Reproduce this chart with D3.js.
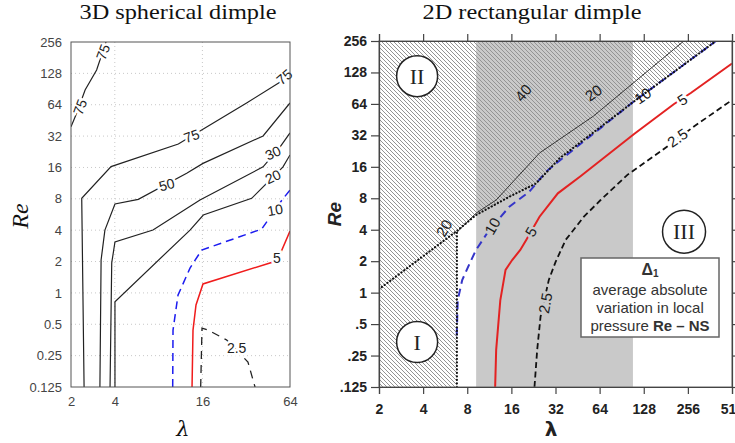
<!DOCTYPE html>
<html>
<head>
<meta charset="utf-8">
<script src="https://cdnjs.cloudflare.com/ajax/libs/d3/7.8.5/d3.min.js"></script>
<style>
  body { margin: 0; background: #fff; }
  svg { display: block; }
</style>
</head>
<body>
<svg id="chart" width="735" height="443"></svg>
<script>
// ---- data: axis ticks ----
var reTicks = [0.125, 0.25, 0.5, 1, 2, 4, 8, 16, 32, 64, 128, 256];
var reLabelsL = ["0.125", "0.25", "0.5", "1", "2", "4", "8", "16", "32", "64", "128", "256"];
var reLabelsR = [".125", ".25", ".5", "1", "2", "4", "8", "16", "32", "64", "128", "256"];
var lamTicksL = [2, 4, 16, 64];
var lamTicksR = [2, 4, 8, 16, 32, 64, 128, 256, 512];

// ---- data: 3D spherical dimple contours [lambda, Re] ----
var sph75a = [[2, 39.4], [2.19, 53.3], [2.5, 88.6], [3.0, 138], [3.48, 256]];
var sph75b = [[2.46, 0.125], [2.37, 8.09], [3.77, 16.3], [10.93, 26.9], [16.67, 38.3], [32.2, 66.5], [57.3, 110], [64, 132]];
var sph50 = [[3.16, 0.125], [3.22, 2.07], [3.42, 4.01], [4.01, 7.13], [5.8, 7.91], [12.48, 14.1], [16.15, 17.5], [41.8, 32.1], [64, 66.5]];
var sph30 = [[3.71, 0.125], [3.81, 1.94], [4.01, 3.08], [7.32, 4.01], [15.4, 7.79], [41.8, 16.2], [54.6, 25.1], [64, 34.3]];
var sph20 = [[4.01, 0.125], [4.01, 0.823], [13.15, 4.01], [16.23, 5.59], [34.9, 8.09], [48.9, 12.95], [57.3, 16.2], [64, 21.1]];
var sph10 = [[10.0, 0.125], [10.05, 0.44], [10.88, 0.954], [13.15, 1.73], [15.82, 2.58], [40.9, 4.1], [45.2, 5.01], [56.4, 7.79], [64, 9.72]];
var sph5 = [[13.58, 0.125], [13.79, 0.44], [14.46, 0.765], [16.15, 1.22], [48.9, 1.98], [55.5, 2.47], [64, 3.93]];
var sph2p5 = [[15.57, 0.125], [15.9, 0.46], [17.49, 0.44], [23.5, 0.353], [32.9, 0.217], [36.8, 0.125]];
var sphLabels = [
  ["75", 2.31, 60.8, -70], ["75", 3.32, 205, -70], ["75", 13.5, 32, -20], ["75", 58.5, 118, -40],
  ["50", 9.09, 10.9, -15], ["30", 48.9, 22, -25], ["20", 48.9, 13, -25], ["10", 50.5, 6.25, -10],
  ["5", 52, 2.16, 0], ["2.5", 27.5, 0.296, 0]
];

// ---- data: 2D rectangular dimple ----
var grayBand = [9.2, 108];
var iVertical = [[6.8, 0.125], [6.8, 3.9]];
var iiBoundary = [[2, 1.08], [6.8, 3.9], [9.18, 5.53], [15.5, 8.28], [23.6, 11.1], [34.1, 19.3], [110, 67.8], [398, 256]];
var rect20 = [[6.83, 3.8], [9.22, 5.78], [12.6, 7.7], [24.9, 21.7], [58.2, 49], [240, 256]];
var rect10 = [[6.78, 0.39], [6.89, 0.85], [7.39, 1.32], [8.39, 1.96], [9.18, 2.56], [11.3, 3.97], [15.5, 6.64], [21.2, 9.24], [27.6, 14.4], [32.4, 17.3], [110, 67.8], [398, 256]];
var rect5 = [[12.4, 0.125], [12.6, 0.283], [13.45, 0.85], [14.6, 1.65], [16.2, 2.05], [18.4, 2.56], [20.2, 3.19], [24.9, 5.33], [33.2, 8.92], [47.4, 13.0], [110, 33.0], [206, 63.9], [268, 81.4], [512, 156]];
var rect2p5 = [[23.0, 0.125], [24.0, 0.283], [25.3, 0.588], [28.8, 1.32], [32, 1.96], [37.5, 3.19], [50, 5.33], [65, 7.7], [99, 13.4], [167, 22.5], [283, 39.1], [512, 69.7]];
var rectLabels = [
  ["20", 5.57, 4.15, -60, null], ["10", 11.9, 4.34, -60, "#c9c9c9"], ["5", 21.8, 3.83, -60, "#c9c9c9"],
  ["2.5", 27.3, 0.795, -80, "#c9c9c9"], ["40", 19.3, 81.4, -50, null], ["20", 58.2, 81.4, -35, null],
  ["10", 126, 76.2, -35, null], ["5", 235, 70.2, -35, "#fff"], ["2.5", 218, 30.2, -35, "#fff"]
];
var regions = [["II", 3.64, 118], ["I", 3.64, 0.337], ["III", 241, 3.83]];

var svg = d3.select("#chart");
var defs = svg.append("defs");

// hatch pattern
var pat = defs.append("pattern")
  .attr("id", "hatch")
  .attr("patternUnits", "userSpaceOnUse")
  .attr("width", 4).attr("height", 4);
pat.append("path")
  .attr("d", "M0,0 L4,4 M-1,3 L1,5 M3,-1 L5,1")
  .attr("stroke", "#939393").attr("stroke-width", 1);

// ================= LEFT PANEL =================
var xL = d3.scaleLog().base(2).domain([2, 64]).range([71, 290]),
    yL = d3.scaleLog().base(2).domain([0.125, 256]).range([387, 42]);

defs.append("clipPath").attr("id", "clipL").append("rect")
  .attr("x", 71).attr("y", 42).attr("width", 219).attr("height", 345);

var left = svg.append("g");

// grid
left.selectAll(".gy").data(reTicks.slice(1, -1)).enter().append("line")
  .attr("x1", 71).attr("x2", 290)
  .attr("y1", d => yL(d)).attr("y2", d => yL(d))
  .attr("stroke", "#c8c8c8").attr("stroke-dasharray", "1,3");
left.selectAll(".gx").data([4, 16]).enter().append("line")
  .attr("x1", d => xL(d)).attr("x2", d => xL(d))
  .attr("y1", 42).attr("y2", 387)
  .attr("stroke", "#c8c8c8").attr("stroke-dasharray", "1,3");

var lineL = d3.line().x(d => xL(d[0])).y(d => yL(d[1]));
var curvesL = [
  [sph75a, "#222", null, 1.2], [sph75b, "#222", null, 1.2], [sph50, "#222", null, 1.2],
  [sph30, "#222", null, 1.2], [sph20, "#222", null, 1.2],
  [sph10, "#1c1cf0", "8,5", 1.5], [sph5, "#f01c1c", null, 1.5], [sph2p5, "#222", "8,6", 1.3]
];
left.append("g").attr("clip-path", "url(#clipL)")
  .selectAll("path").data(curvesL).enter().append("path")
  .attr("d", d => lineL(d[0]))
  .attr("fill", "none")
  .attr("stroke", d => d[1])
  .attr("stroke-dasharray", d => d[2])
  .attr("stroke-width", d => d[3]);

left.selectAll(".lab").data(sphLabels).enter().append("text")
  .attr("transform", d => "translate(" + xL(d[1]) + "," + yL(d[2]) + ") rotate(" + d[3] + ")")
  .attr("text-anchor", "middle").attr("dy", "0.35em")
  .attr("font-family", "Liberation Sans, Arial, sans-serif").attr("font-size", 14)
  .attr("fill", "#222")
  .attr("stroke", "#fff").attr("stroke-width", 5).attr("paint-order", "stroke")
  .text(d => d[0]);

left.append("rect").attr("x", 71).attr("y", 42).attr("width", 219).attr("height", 345)
  .attr("fill", "none").attr("stroke", "#555").attr("stroke-width", 1);

var axL = left.append("g").attr("transform", "translate(71,0)")
  .call(d3.axisLeft(yL).tickValues(reTicks).tickFormat((d, i) => reLabelsL[i]).tickSize(0).tickPadding(9));
var axLb = left.append("g").attr("transform", "translate(0,387)")
  .call(d3.axisBottom(xL).tickValues(lamTicksL).tickFormat(d => d).tickSize(0).tickPadding(10));
[axL, axLb].forEach(function(a) {
  a.select(".domain").remove();
  a.selectAll("text").attr("font-family", "Liberation Sans, Arial, sans-serif")
    .attr("font-size", 13).attr("fill", "#444");
});

left.append("text").attr("x", 178).attr("y", 19).attr("text-anchor", "middle")
  .attr("font-family", "Liberation Serif, serif").attr("font-size", 21)
  .attr("textLength", 197).attr("lengthAdjust", "spacingAndGlyphs")
  .attr("fill", "#111").text("3D spherical dimple");
left.append("text").attr("transform", "translate(28,216) rotate(-90)").attr("text-anchor", "middle")
  .attr("font-family", "Liberation Serif, serif").attr("font-style", "italic").attr("font-size", 24)
  .attr("fill", "#111").text("Re");
left.append("text").attr("x", 183).attr("y", 436).attr("text-anchor", "middle")
  .attr("font-family", "DejaVu Serif, serif").attr("font-style", "italic").attr("font-size", 21)
  .attr("fill", "#111").text("λ");

// ================= RIGHT PANEL =================
var xR = d3.scaleLog().base(2).domain([2, 512]).range([379, 732]),
    yR = d3.scaleLog().base(2).domain([0.125, 256]).range([387, 41]);

defs.append("clipPath").attr("id", "clipR").append("rect")
  .attr("x", 379).attr("y", 41).attr("width", 354).attr("height", 346);

var right = svg.append("g");
var plotR = right.append("g").attr("clip-path", "url(#clipR)");

plotR.append("rect")
  .attr("x", xR(grayBand[0])).attr("y", yR(256))
  .attr("width", xR(grayBand[1]) - xR(grayBand[0])).attr("height", yR(0.125) - yR(256))
  .attr("fill", "#c9c9c9");

var lineR = d3.line().x(d => xR(d[0])).y(d => yR(d[1]));
var hatchPoly = [[2, 0.125]].concat(iVertical).concat(iiBoundary.slice(2)).concat([[2, 256]]);
plotR.append("path").attr("d", lineR(hatchPoly) + "Z").attr("fill", "url(#hatch)");

var curvesR = [
  [rect20, "#333", null, 1, null],
  [rect2p5, "#111", "6,3.5", 1.8, null],
  [rect5, "#e32222", null, 2, null],
  [rect10, "#3535c8", "8,5", 2, null],
  [iiBoundary, "#111", "0.1,3.4", 2.2, "round"],
  [iVertical, "#111", "0.1,3.4", 2.2, "round"]
];
plotR.selectAll(".c").data(curvesR).enter().append("path")
  .attr("d", d => lineR(d[0]))
  .attr("fill", "none")
  .attr("stroke", d => d[1])
  .attr("stroke-dasharray", d => d[2])
  .attr("stroke-width", d => d[3])
  .attr("stroke-linecap", d => d[4]);

plotR.selectAll(".lab").data(rectLabels).enter().append("text")
  .attr("transform", d => "translate(" + xR(d[1]) + "," + yR(d[2]) + ") rotate(" + d[3] + ")")
  .attr("text-anchor", "middle").attr("dy", "0.35em")
  .attr("font-family", "Liberation Sans, Arial, sans-serif").attr("font-size", 15)
  .attr("fill", "#1a1a1a")
  .attr("stroke", d => d[4] || "none").attr("stroke-width", 5).attr("paint-order", "stroke")
  .text(d => d[0]);

// region markers
var reg = plotR.selectAll(".reg").data(regions).enter().append("g")
  .attr("transform", d => "translate(" + xR(d[1]) + "," + yR(d[2]) + ")");
reg.append("circle").attr("r", d => d[0] === "III" ? 21.5 : 20.5)
  .attr("fill", "#fff").attr("stroke", "#222").attr("stroke-width", 1.5);
reg.append("text").attr("text-anchor", "middle").attr("dy", "0.35em")
  .attr("font-family", "Liberation Serif, serif").attr("font-size", 22).attr("fill", "#222")
  .text(d => d[0]);

// legend box
var lg = right.append("g");
lg.append("rect").attr("x", 581).attr("y", 258).attr("width", 138).attr("height", 79)
  .attr("fill", "#fff").attr("stroke", "#666").attr("stroke-width", 1.5);
var t0 = lg.append("text").attr("x", 650).attr("y", 275).attr("text-anchor", "middle")
  .attr("font-family", "Liberation Sans, Arial, sans-serif").attr("font-weight", "bold").attr("fill", "#333");
t0.append("tspan").attr("font-size", 16).text("Δ");
t0.append("tspan").attr("font-size", 10).attr("dy", 2).text("1");
var legLines = ["average absolute", "variation in local"];
lg.selectAll(".ll").data(legLines).enter().append("text")
  .attr("x", 650).attr("y", (d, i) => 295 + i * 18).attr("text-anchor", "middle")
  .attr("font-family", "Liberation Sans, Arial, sans-serif").attr("font-size", 15).attr("fill", "#333")
  .text(d => d);
var t3 = lg.append("text").attr("x", 650).attr("y", 331).attr("text-anchor", "middle")
  .attr("font-family", "Liberation Sans, Arial, sans-serif").attr("font-size", 15).attr("fill", "#333");
t3.append("tspan").text("pressure ");
t3.append("tspan").attr("font-weight", "bold").text("Re – NS");

// frame + axes
right.append("rect").attr("x", 379).attr("y", 41).attr("width", 353).attr("height", 346)
  .attr("fill", "none").attr("stroke", "#666").attr("stroke-width", 1);

var axR = right.append("g").attr("transform", "translate(379,0)")
  .call(d3.axisLeft(yR).tickValues(reTicks).tickFormat((d, i) => reLabelsR[i]).tickSize(8).tickPadding(4));
var axRb = right.append("g").attr("transform", "translate(0,387)")
  .call(d3.axisBottom(xR).tickValues(lamTicksR).tickFormat(d => d).tickSize(7).tickPadding(10));
var axRt = right.append("g").attr("transform", "translate(0,41)")
  .call(d3.axisTop(xR).tickValues(lamTicksR).tickFormat("").tickSize(7));
var axRr = right.append("g").attr("transform", "translate(732,0)")
  .call(d3.axisRight(yR).tickValues(reTicks).tickFormat("").tickSize(7));
[axR, axRb, axRt, axRr].forEach(function(a) {
  a.select(".domain").attr("stroke", "#444").attr("stroke-width", 1.2);
  a.selectAll(".tick line").attr("stroke", "#444").attr("stroke-width", 1.2);
  a.selectAll("text").attr("font-family", "Liberation Sans, Arial, sans-serif")
    .attr("font-size", 14).attr("font-weight", "bold").attr("fill", "#222");
});

right.append("text").attr("x", 532).attr("y", 19).attr("text-anchor", "middle")
  .attr("font-family", "Liberation Serif, serif").attr("font-size", 21)
  .attr("textLength", 219).attr("lengthAdjust", "spacingAndGlyphs")
  .attr("fill", "#111").text("2D rectangular dimple");
right.append("text").attr("transform", "translate(341,214) rotate(-90)").attr("text-anchor", "middle")
  .attr("font-family", "Liberation Sans, Arial, sans-serif").attr("font-style", "italic")
  .attr("font-weight", "bold").attr("font-size", 19).attr("fill", "#222").text("Re");
right.append("text").attr("x", 551).attr("y", 436).attr("text-anchor", "middle")
  .attr("font-family", "DejaVu Sans, sans-serif").attr("font-weight", "bold").attr("font-size", 20)
  .attr("fill", "#222").text("λ");
</script>
</body>
</html>
